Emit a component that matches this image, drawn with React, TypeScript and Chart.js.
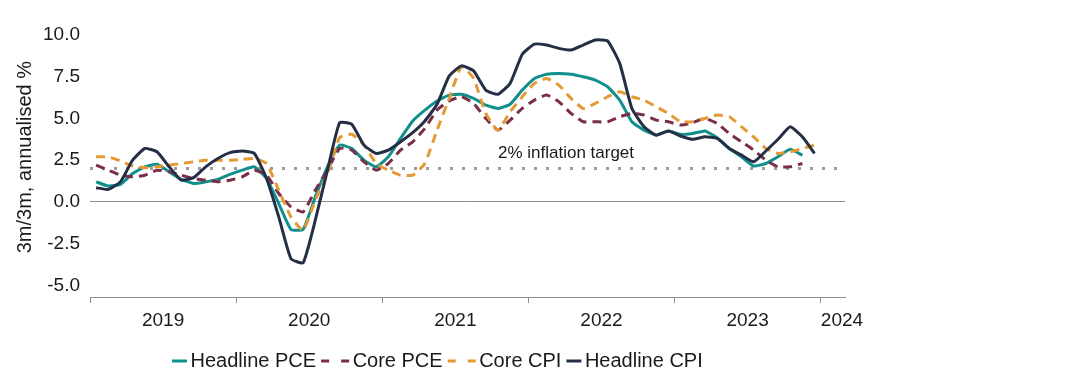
import React, { useEffect, useRef } from 'react';
import { Chart, registerables } from 'chart.js';

Chart.register(...registerables);

// ---------- data ----------
const YEAR_LABELS = ['2019', '2020', '2021', '2022', '2023', '2024'];
const AXIS_MONTHS = 62; // Jan 2019 .. Feb 2024
const Y_TICKS = [-5, -2.5, 0, 2.5, 5, 7.5, 10];
const Y_MIN = -5.7;
const Y_MAX = 10;
const TARGET = 2;
const TARGET_LABEL = '2% inflation target';
const Y_TITLE = '3m/3m, annualised %';
const SERIES_NAMES = ['Headline PCE', 'Core PCE', 'Core CPI', 'Headline CPI'];

// monthly values from Jan 2019
const headlinePCE = [
  1.2, 0.95, 1.05, 1.7, 2.1, 2.25, 1.8, 1.35, 1.1, 1.2, 1.35, 1.65,
  1.9, 2.1, 1.4, -0.1, -1.65, -1.65, 0.3, 2.1, 3.4, 3.2, 2.5, 2.1,
  2.7, 3.8, 4.85, 5.5, 6.05, 6.4, 6.45, 6.2, 5.8, 5.6, 5.85, 6.7,
  7.4, 7.65, 7.7, 7.65, 7.5, 7.3, 6.9, 6.1, 4.8, 4.3, 4.0, 4.25,
  4.05, 4.1, 4.25, 3.85, 3.2, 2.7, 2.15, 2.3, 2.7, 3.15, 2.8,
];
const corePCE = [
  2.2, 1.9, 1.6, 1.5, 1.6, 1.9, 1.8, 1.6, 1.4, 1.3, 1.2, 1.3,
  1.5, 1.9, 1.6, 0.5, -0.3, -0.6, 0.7, 1.9, 3.2, 3.1, 2.4, 1.9,
  2.3, 3.1, 3.6, 4.4, 5.5, 6.05, 6.3, 5.9, 5.0, 4.3, 4.9, 5.6,
  6.1, 6.4, 6.0, 5.3, 4.8, 4.8, 4.8, 5.1, 5.3, 5.2, 4.9, 4.8,
  4.6, 4.75, 5.0, 4.7, 4.1, 3.6, 3.1, 2.5, 2.1, 2.1, 2.3,
];
const coreCPI = [
  2.7, 2.7, 2.45, 2.15, 2.05, 2.1, 2.2, 2.3, 2.4, 2.5, 2.5, 2.5,
  2.55, 2.6, 2.3, 0.7, -0.9, -1.7, 0.1, 1.7, 3.85, 4.05, 3.4, 2.3,
  1.9, 1.6, 1.6, 2.3, 4.3, 6.2, 8.1, 7.4, 5.3, 4.3, 5.4, 6.3,
  7.1, 7.4, 7.0, 6.2, 5.6, 5.9, 6.3, 6.6, 6.3, 6.1, 5.7, 5.3,
  4.8, 4.8, 5.0, 5.2, 5.1, 4.5, 3.9, 3.2, 2.9, 3.0, 3.2, 3.4,
];
const headlineCPI = [
  0.85, 0.75, 1.2, 2.5, 3.2, 3.0, 2.1, 1.3, 1.45, 2.1, 2.6, 2.95,
  3.05, 2.9, 1.4, -0.9, -3.4, -3.65, -1.1, 1.9, 4.75, 4.65, 3.4, 2.9,
  3.1, 3.6, 4.15, 4.85, 5.85, 7.55, 8.15, 7.85, 6.7, 6.45, 7.1, 8.85,
  9.45, 9.4, 9.2, 9.1, 9.4, 9.7, 9.65, 8.3, 5.6, 4.5, 4.0, 4.25,
  3.95, 3.75, 3.9, 3.8, 3.2, 2.8, 2.4, 3.05, 3.75, 4.5, 3.9, 2.9,
];

// ---------- styles ----------
const FONT = '"Liberation Sans", Arial, sans-serif';
const TEXT = '#1a1a1a';
const AXIS_GREY = '#8f8f8f';
const COLORS = ['#10908c', '#7a2e47', '#e39a35', '#242f46'];
const DASHES: number[][] = [[], [9, 6], [9, 6], []];
const TARGET_LABEL_MONTH = 33.5;
const TARGET_LABEL_Y = 2.9;
const LAST_LABEL_INSET = 1.75;

const toPoints = (vals: number[]) => vals.map((v, i) => ({ x: i + 0.5, y: v }));

const overlayPlugin = {
  id: 'overlay',
  afterDraw(chart: any) {
    const { ctx, chartArea } = chart;
    const xs = chart.scales.x;
    const ys = chart.scales.y;
    ctx.save();
    // target label
    ctx.font = `17px ${FONT}`;
    ctx.fillStyle = TEXT;
    ctx.textAlign = 'left';
    ctx.textBaseline = 'middle';
    ctx.fillText(TARGET_LABEL, xs.getPixelForValue(TARGET_LABEL_MONTH), ys.getPixelForValue(TARGET_LABEL_Y));
    ctx.restore();

    // y-axis title
    ctx.save();
    ctx.font = `20px ${FONT}`;
    ctx.fillStyle = TEXT;
    ctx.textAlign = 'center';
    ctx.textBaseline = 'middle';
    const cy = (ys.getPixelForValue(Y_TICKS[0]) + ys.getPixelForValue(Y_TICKS[Y_TICKS.length - 1])) / 2 - 3;
    ctx.translate(25.5, cy);
    ctx.rotate(-Math.PI / 2);
    ctx.fillText(Y_TITLE, 0, 0);
    ctx.restore();

    // key
    ctx.save();
    ctx.font = `20px ${FONT}`;
    ctx.textAlign = 'left';
    ctx.textBaseline = 'middle';
    let x = chartArea.left + 82;
    const y = 361;
    const items = chart.data.datasets.filter((d: any) => d.inKey);
    items.forEach((d: any, i: number) => {
      if (i > 0) x += 5;
      const dashed = d.borderDash && d.borderDash.length > 0;
      const len = dashed ? 28 : 15;
      ctx.strokeStyle = d.borderColor;
      ctx.lineWidth = 3;
      ctx.lineCap = 'butt';
      ctx.setLineDash(dashed ? [8, 12] : []);
      ctx.beginPath();
      ctx.moveTo(x, y);
      ctx.lineTo(x + len, y);
      ctx.stroke();
      ctx.setLineDash([]);
      x += len + 3.5;
      ctx.fillStyle = TEXT;
      ctx.fillText(d.label, x, y);
      x += ctx.measureText(d.label).width;
    });
    ctx.restore();
  },
};

export default function App() {
  const ref = useRef<HTMLCanvasElement | null>(null);

  useEffect(() => {
    document.body.style.margin = '0';
    Chart.defaults.font.family = FONT;
    const seriesVals = [headlinePCE, corePCE, coreCPI, headlineCPI];
    const datasets: any[] = seriesVals.map((vals, i) => ({
      label: SERIES_NAMES[i],
      data: toPoints(vals),
      borderColor: COLORS[i],
      backgroundColor: COLORS[i],
      borderWidth: 3,
      borderDash: DASHES[i],
      borderCapStyle: 'butt',
      borderJoinStyle: 'round',
      pointRadius: 0,
      tension: 0.15,
      fill: false,
      order: 4 - i,
      inKey: true,
    }));
    datasets.push({
      label: 'target',
      data: [
        { x: 0, y: TARGET },
        { x: AXIS_MONTHS, y: TARGET },
      ],
      borderColor: '#9a9a9a',
      borderWidth: 3,
      borderDash: [3, 9],
      borderCapStyle: 'butt',
      pointRadius: 0,
      fill: false,
      order: 10,
      inKey: false,
    });

    const chart = new Chart(ref.current as HTMLCanvasElement, {
      type: 'line',
      data: { datasets },
      plugins: [overlayPlugin],
      options: {
        animation: false,
        responsive: false,
        devicePixelRatio: 1,
        layout: { padding: { top: 35, left: 0, right: 243, bottom: 47 } },
        plugins: { legend: { display: false }, tooltip: { enabled: false } },
        scales: {
          x: {
            type: 'linear',
            position: 'bottom',
            weight: 0,
            min: 0,
            max: AXIS_MONTHS,
            afterBuildTicks: (s: any) => {
              s.ticks = YEAR_LABELS.map((_, i) => ({ value: i * 12 }));
            },
            afterFit: (s: any) => {
              s.height = 6;
            },
            ticks: { display: false },
            grid: {
              display: true,
              drawOnChartArea: false,
              drawTicks: true,
              tickLength: 6,
              color: AXIS_GREY,
              lineWidth: 1,
            },
            border: { display: true, color: AXIS_GREY, width: 1 },
          },
          xLabels: {
            type: 'linear',
            position: 'bottom',
            weight: 1,
            min: 0,
            max: AXIS_MONTHS,
            afterBuildTicks: (s: any) => {
              s.ticks = YEAR_LABELS.map((_, i) => {
                const start = i * 12;
                const v = start + 12 <= AXIS_MONTHS ? start + 6 : start + LAST_LABEL_INSET;
                return { value: v };
              });
            },
            afterFit: (s: any) => {
              s.height = 40;
            },
            ticks: {
              autoSkip: false,
              maxRotation: 0,
              padding: 6,
              color: TEXT,
              font: { size: 19, family: FONT },
              callback: (_v: any, idx: number) => YEAR_LABELS[idx],
            },
            grid: { display: false, drawTicks: false, tickLength: 0 },
            border: { display: false },
          },
          y: {
            type: 'linear',
            min: Y_MIN,
            max: Y_MAX,
            afterBuildTicks: (s: any) => {
              s.ticks = Y_TICKS.map((v) => ({ value: v }));
            },
            afterFit: (s: any) => {
              s.width = 90;
            },
            ticks: {
              padding: 10,
              color: TEXT,
              font: { size: 19, family: FONT },
              callback: (v: any) => Number(v).toFixed(1),
            },
            grid: {
              drawTicks: false,
              lineWidth: 1,
              color: (c: any) => (c.tick && c.tick.value === 0 ? AXIS_GREY : 'rgba(0,0,0,0)'),
            },
            border: { display: false },
          },
        },
      },
    } as any);
    return () => chart.destroy();
  }, []);

  return (
    <div style={{ width: 1088, height: 390 }}>
      <canvas ref={ref} width={1088} height={390} style={{ display: 'block' }} />
    </div>
  );
}
